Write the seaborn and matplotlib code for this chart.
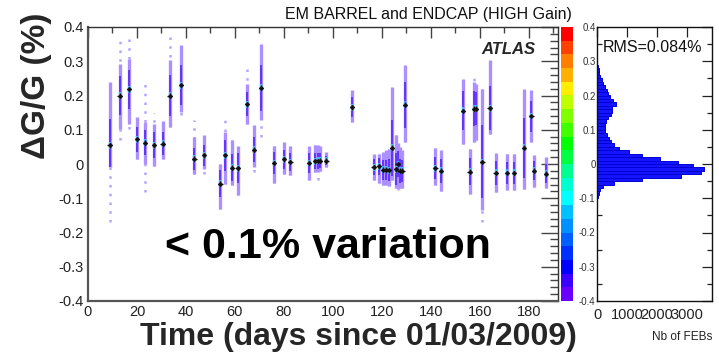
import numpy as np
import pandas as pd
import matplotlib
matplotlib.use("Agg")
import matplotlib.pyplot as plt
from matplotlib.colors import ListedColormap
from matplotlib.ticker import MultipleLocator
import seaborn as sns

# ---- per-run gain variation columns (days since 01/03/2009, values in %) ----
days = [8.8, 12.9, 16.7, 20.0, 23.4, 26.9, 30.5, 33.3, 38.1, 43.5, 47.5, 54.1,
        55.9, 58.9, 61.1, 65.0, 67.8, 70.7, 76.1, 80.1, 82.7, 90.2, 92.7, 94.0,
        94.7, 97.4, 107.8, 116.7, 118.8, 120.4, 121.6, 122.9, 124.1, 125.7,
        126.5, 127.3, 128.4, 129.4, 141.9, 144.3, 153.2, 155.9, 157.6, 158.6,
        161.1, 164.1, 166.5, 171.2, 174.0, 178.0, 181.1, 182.2, 187.2]
mean_gain = [0.055, 0.199, 0.218, 0.072, 0.062, 0.055, 0.059, 0.200, 0.230, 0.016,
             0.025, -0.057, 0.025, -0.011, -0.012, 0.174, 0.042, 0.223, 0.003,
             0.014, 0.006, 0.003, 0.008, 0.009, 0.010, 0.010, 0.166, -0.009,
             -0.007, -0.017, -0.017, -0.018, 0.048, -0.015, 0.000, -0.020,
             -0.020, 0.173, -0.012, -0.020, 0.155, -0.023, 0.162, 0.162, 0.006,
             0.163, -0.026, -0.026, -0.026, 0.048, 0.140, -0.020, -0.028]
band_lo = [-0.010, 0.103, 0.118, 0.014, 0.001, -0.007, 0.014, 0.108, 0.152, -0.028,
           -0.014, -0.130, -0.057, -0.062, -0.091, 0.118, -0.009, 0.128, -0.055,
           -0.028, -0.033, -0.048, -0.023, -0.023, -0.020, -0.009, 0.123, -0.048,
           -0.055, -0.060, -0.060, -0.065, -0.048, -0.070, -0.070, -0.070,
           -0.070, 0.064, -0.062, -0.079, 0.059, -0.087, 0.064, 0.070, -0.135,
           0.088, -0.082, -0.075, -0.075, -0.072, 0.064, -0.067, -0.070]
band_hi = [0.240, 0.293, 0.306, 0.137, 0.123, 0.118, 0.125, 0.303, 0.347, 0.079,
           0.084, 0.001, 0.093, 0.069, 0.052, 0.234, 0.113, 0.351, 0.052, 0.064,
           0.052, 0.052, 0.055, 0.055, 0.052, 0.035, 0.217, 0.030, 0.030, 0.035,
           0.040, 0.045, 0.225, 0.085, 0.060, 0.050, 0.040, 0.288, 0.048, 0.040,
           0.249, 0.045, 0.239, 0.235, 0.220, 0.303, 0.032, 0.030, 0.030, 0.220,
           0.215, 0.025, 0.020]
tail_lo = [-0.170, 0.071, 0.103, 0.014, -0.082, -0.007, 0.014, 0.108, 0.142, -0.028,
           -0.030, -0.130, -0.057, -0.062, -0.091, 0.118, -0.023, 0.079, -0.055,
           -0.028, -0.033, -0.048, -0.023, -0.048, -0.020, -0.009, 0.123, -0.048,
           -0.055, -0.060, -0.060, -0.065, -0.048, -0.070, -0.075, -0.070,
           -0.070, 0.064, -0.062, -0.079, 0.059, -0.087, 0.064, 0.070, -0.169,
           0.088, -0.082, -0.075, -0.075, -0.072, 0.064, -0.067, -0.070]
tail_hi = [0.240, 0.364, 0.364, 0.137, 0.233, 0.149, 0.125, 0.371, 0.347, 0.128,
           0.084, 0.001, 0.128, 0.069, 0.052, 0.278, 0.113, 0.360, 0.052, 0.064,
           0.052, 0.052, 0.055, 0.055, 0.052, 0.035, 0.217, 0.030, 0.030, 0.035,
           0.040, 0.045, 0.225, 0.085, 0.070, 0.050, 0.040, 0.288, 0.048, 0.040,
           0.249, 0.045, 0.255, 0.235, 0.220, 0.303, 0.032, 0.030, 0.030, 0.220,
           0.215, 0.025, 0.020]

# ---- projected distribution (bin centres in %, number of FEBs) ----
hist_centers = [0.305, 0.295, 0.285, 0.275, 0.265, 0.255, 0.245, 0.235, 0.225,
                0.215, 0.205, 0.195, 0.185, 0.175, 0.165, 0.155, 0.145, 0.135,
                0.125, 0.115, 0.105, 0.095, 0.085, 0.075, 0.065, 0.055, 0.045,
                0.035, 0.025, 0.015, 0.005, -0.005, -0.015, -0.025, -0.035,
                -0.045, -0.055, -0.065, -0.075, -0.085, -0.095, -0.105]
hist_counts = [5, 15, 30, 50, 75, 105, 150, 200, 265, 320, 375, 440, 540, 620,
               510, 500, 480, 380, 300, 260, 250, 270, 330, 400, 470, 560, 720,
               1050, 1500, 2100, 2700, 3200, 3550, 3450, 2800, 1500, 560, 210,
               110, 60, 30, 10]

# ---- z-axis palette, bottom to top ----
palette_colors = ["#6a00ff", "#3c00ff", "#0000ff", "#0030ff", "#0060ff",
                  "#0090ff", "#00c0ff", "#00ffff", "#00ffd0", "#00ff90",
                  "#00ff40", "#00ff00", "#40ff00", "#80ff00", "#bfff00",
                  "#ffee00", "#ffb000", "#ff8000", "#ff4000", "#ff0000"]

y_ticks = [0.4, 0.3, 0.2, 0.1, 0.0, -0.1, -0.2, -0.3, -0.4]
y_ticklabels = ["0.4", "0.3", "0.2", "0.1", "0", "-0.1", "-0.2", "-0.3", "-0.4"]
x_ticks = [0, 20, 40, 60, 80, 100, 120, 140, 160, 180]
h_ticks = [0, 1000, 2000, 3000]

sns.set_style("white")
plt.rcParams["font.family"] = ["Liberation Sans", "DejaVu Sans"]

fig = plt.figure(figsize=(7.19, 3.56), dpi=100)
fig.patch.set_facecolor("white")

bottom, height = 55 / 356, 274 / 356
ax = fig.add_axes([88 / 719, bottom, 470 / 719, height])
cax = fig.add_axes([561 / 719, bottom, 12 / 719, height])
hax = fig.add_axes([597 / 719, bottom, 115 / 719, height])

# ---- main panel: spread of each run ----
d = np.array(days)
m = np.array(mean_gain)
lo = np.array(band_lo)
hi = np.array(band_hi)
core = 0.6 * (hi - lo) / 2

ax.vlines(d, tail_lo, tail_hi, colors="#b9a2ff", lw=1.8,
          linestyles=(0, (1, 2.5)), zorder=1)
ax.vlines(d, lo, hi, colors="#ad90ff", lw=2.4, zorder=2)
ax.vlines(d, np.maximum(lo, m - core), np.minimum(hi, m + core),
          colors="#4f1cff", lw=1.1, zorder=3)
ax.vlines(d, m - 0.01, m + 0.01, colors="#3fb8ff", lw=1.6, zorder=4)
ax.errorbar(d, m, xerr=0.9, yerr=0.007, fmt="none", ecolor="#111111",
            elinewidth=0.9, zorder=5)
sns.scatterplot(x=d, y=m, ax=ax, marker="D", s=6, color="#111111",
                edgecolor="#111111", linewidth=0.3, zorder=6, legend=False)

ax.set_xlim(0, 192)
ax.set_ylim(-0.4, 0.4)
ax.set_xticks(x_ticks)
ax.set_xticklabels([str(v) for v in x_ticks])
ax.set_yticks(y_ticks)
ax.set_yticklabels(y_ticklabels)
ax.xaxis.set_minor_locator(MultipleLocator(10))
ax.yaxis.set_minor_locator(MultipleLocator(0.02))
ax.tick_params(which="major", direction="in", length=12, width=1.0,
               color="#444444", labelsize=10.5, labelcolor="#222222",
               top=True, right=True, pad=3)
ax.tick_params(which="minor", direction="in", length=6, width=1.0,
               color="#444444", top=True, right=True)
ax.tick_params(axis="x", which="major", length=8)
ax.tick_params(axis="x", which="minor", length=4)
for s in ax.spines.values():
    s.set_color("#333333")
    s.set_linewidth(1.0)
ax.spines["left"].set_linewidth(1.6)
ax.spines["left"].set_color("#555555")
ax.spines["bottom"].set_linewidth(1.6)
ax.spines["bottom"].set_color("#555555")
ax.set_xlabel("")
ax.set_ylabel("")

# ---- colour scale ----
cmap = ListedColormap(palette_colors)
cax.pcolormesh(np.array([[i] for i in range(len(palette_colors))]), cmap=cmap)
cax.set_xticks([])
cax.set_yticks([])
for s in cax.spines.values():
    s.set_visible(False)

# ---- projection panel: one horizontal bar per 0.01% bin ----
hist_df = pd.DataFrame({"gain": hist_centers, "febs": hist_counts})
sns.barplot(data=hist_df, x="febs", y="gain", orient="h", native_scale=True,
            width=1.0, color="#1414ff", saturation=1.0, ax=hax,
            edgecolor="#0000d8", linewidth=0.7, errorbar=None)
hax.set_xlim(0, 3830)
hax.set_ylim(-0.4, 0.4)
hax.set_yticks(y_ticks)
hax.set_yticklabels(y_ticklabels)
hax.set_xticks(h_ticks)
hax.set_xticklabels([str(v) for v in h_ticks])
hax.yaxis.set_minor_locator(MultipleLocator(0.05))
hax.tick_params(which="major", direction="in", length=7, width=0.9,
                color="#222222", top=True, right=True)
hax.tick_params(which="minor", direction="in", length=3.5, width=0.9,
                color="#222222", right=True, left=True)
hax.tick_params(axis="y", labelsize=7, labelcolor="#333333", pad=1)
hax.tick_params(axis="x", labelsize=10.5, labelcolor="#222222", pad=5)
for s in hax.spines.values():
    s.set_color("#111111")
    s.set_linewidth(1.0)
hax.set_xlabel("")
hax.set_ylabel("")

# ---- texts ----
fig.text(428 / 719, 1 - 15 / 356, "EM BARREL and ENDCAP (HIGH Gain)",
         ha="center", va="center", fontsize=11.5, color="#111111")
fig.text(37 / 719, 1 - 86 / 356, "ΔG/G (%)", rotation=90, ha="center",
         va="center", fontsize=24, fontweight="bold")
fig.text(358 / 719, 1 - 337 / 356, "Time (days since 01/03/2009)",
         ha="center", va="center", fontsize=23, fontweight="bold")
fig.text(328 / 719, 1 - 247 / 356, "< 0.1% variation", ha="center",
         va="center", fontsize=31, fontweight="bold", color="black")
fig.text(535 / 719, 1 - 49 / 356, "ATLAS", ha="right", va="center",
         fontsize=12, fontweight="bold", fontstyle="italic")
fig.text(603 / 719, 1 - 48 / 356, "RMS=0.084%", ha="left", va="center",
         fontsize=11.5, color="#111111")
fig.text(712 / 719, 1 - 337 / 356, "Nb of FEBs", ha="right", va="center",
         fontsize=8.5, color="#222222")

fig.savefig("out.png", dpi=100, facecolor="white")
